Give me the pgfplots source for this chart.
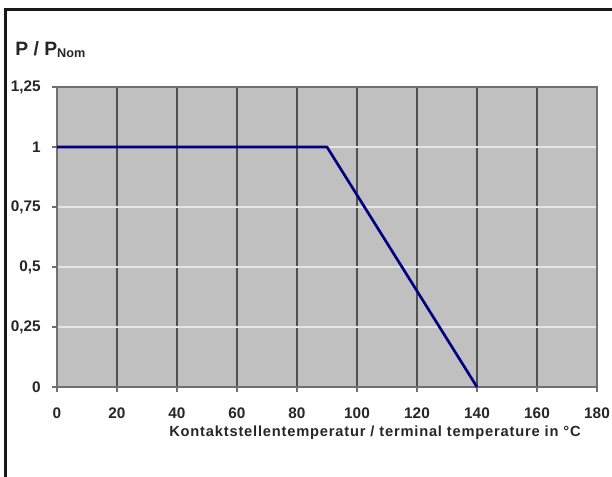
\documentclass[border=0pt]{standalone}
\usepackage{fontspec}
\setmainfont{Liberation Sans}
\usepackage{pgfplots}
\pgfplotsset{compat=1.18}

\definecolor{plotbg}{HTML}{C0C0C0}
\definecolor{vgrid}{HTML}{505050}
\definecolor{hgrid}{HTML}{E6E6E6}
\definecolor{framegray}{HTML}{707070}
\definecolor{curve}{HTML}{000080}

\begin{document}
\begin{tikzpicture}
% page size: 612x477 px at 0.75pt/px, plot box lower left at (0,0)
\path[use as bounding box] (-42.75pt,-67.5pt) rectangle (416.25pt,290.25pt);
\draw[line width=1.9pt, black!90] (-38.8pt,-67.5pt) -- (-38.8pt,283.3pt) -- (416.25pt,283.3pt);

\begin{axis}[
    scale only axis,
    width=405pt, height=225pt,
    at={(0,0)}, anchor=south west,
    xmin=0, xmax=180,
    ymin=0, ymax=1.25,
    xtick={0,20,...,180},
    ytick={0,0.25,0.5,0.75,1,1.25},
    yticklabels={0,{0,25},{0,5},{0,75},1,{1,25}},
    /pgf/number format/assume math mode=true,
    axis background/.style={fill=plotbg},
    axis line style={framegray, line width=1.2pt},
    tick style={framegray, line width=1pt},
    major tick length=3.5pt,
    tick align=outside,
    xtick pos=bottom, ytick pos=left,
    xmajorgrids=true, ymajorgrids=true,
    x grid style={vgrid, line width=1pt},
    y grid style={hgrid, line width=1.1pt},
    ticklabel style={font=\fontsize{11.5}{13}\selectfont\bfseries, text=black!85},
    xticklabel style={anchor=base, inner sep=0pt, yshift=-20pt},
    yticklabel style={anchor=east, inner sep=0pt, xshift=-8.5pt},
    xlabel={\addfontfeature{LetterSpace=5.5}Kontaktstellentemperatur / terminal temperature in °C},
    xlabel style={at={(axis description cs:0.5889,0)}, anchor=base, inner sep=0pt,
        yshift=-37.25pt, font=\fontsize{11}{13}\selectfont\bfseries, text=black!85},
    clip=false,
]
\addplot[curve, line width=2pt, line join=round] coordinates {
    (0,1) (90,1) (140,0)
};
\end{axis}

\node[anchor=base west, inner sep=0pt, text=black!85] at (-31.5pt,248.25pt)
    {\fontsize{14.5}{16}\selectfont\bfseries P / P\raisebox{-1.5pt}{\fontsize{9.5}{11}\selectfont\bfseries Nom}};
\end{tikzpicture}
\end{document}
